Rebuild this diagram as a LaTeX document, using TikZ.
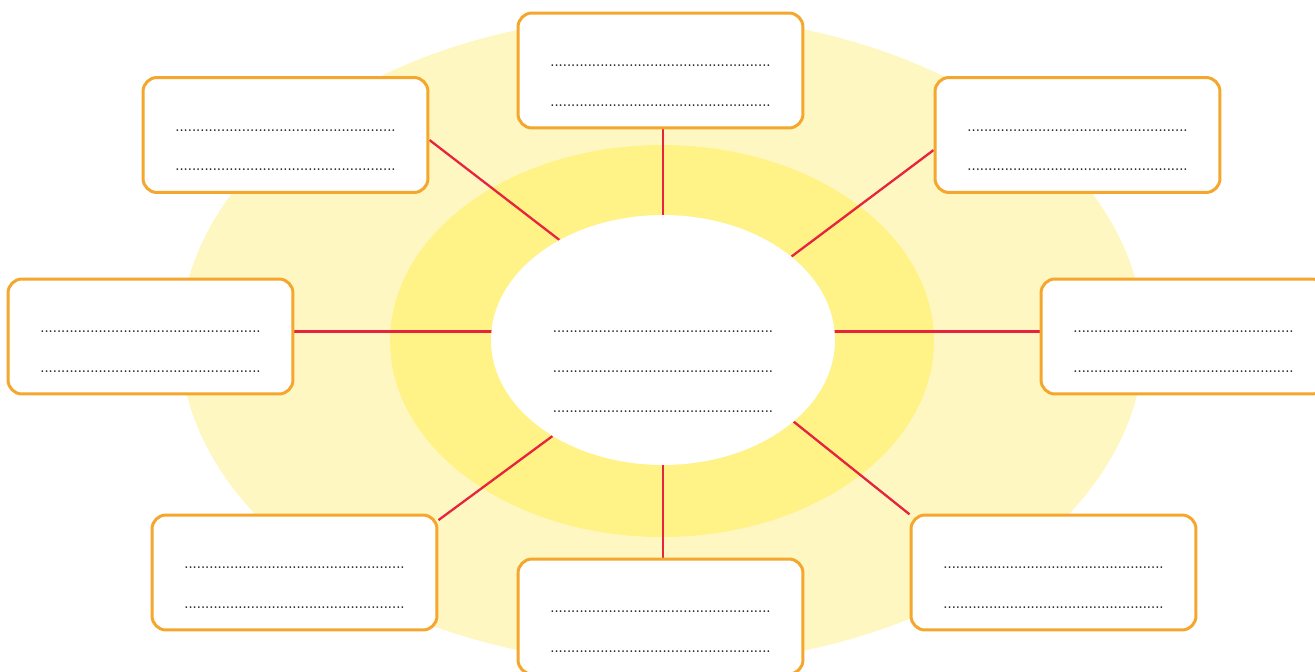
\documentclass[tikz,border=0pt]{standalone}
\usetikzlibrary{shapes.geometric,calc}
\definecolor{ringout}{HTML}{FFF7C1}
\definecolor{ringin}{HTML}{FFF286}
\definecolor{boxline}{HTML}{F4A62D}
\definecolor{spoke}{HTML}{E8233D}
\pgfdeclarelayer{bg}
\pgfsetlayers{bg,main}
\newcommand{\dotrow}{.....................................................}
\newcommand{\answerbox}[3]{
	\node[abox] (#1) at (#2,#3) {\rule{0pt}{0.64cm}\dotrow\\\dotrow};
}

\begin{document}
\begin{tikzpicture}[x=0.02cm, y=-0.02cm,
	dottext/.style={align=center, text=black!90, font=\fontsize{6}{22.76}\selectfont\bfseries},
	abox/.style={dottext, draw=boxline, line width=1.7pt, rounded corners=8pt, fill=white,
		minimum width=5.7cm, minimum height=2.3cm, inner sep=0pt},
	spokeline/.style={spoke, line width=1.3pt}]
		\useasboundingbox (0,0) rectangle (1315,672);

		% rings
		\begin{pgfonlayer}{bg}
		\fill[ringout] (662,340) ellipse [x radius=9.64cm, y radius=6.5cm];
		\fill[ringin] (662,341) ellipse [x radius=5.44cm, y radius=3.92cm];
		\end{pgfonlayer}

		\node[ellipse, fill=white, minimum width=6.88cm, minimum height=5cm, inner sep=0pt] (core) at (663,340) {};
		\node[dottext] (coretext) at (663,372) {\dotrow\\\dotrow\\\dotrow};

		\answerbox{top}{660.5}{70.5};
		\answerbox{topleft}{285.5}{135};
		\answerbox{topright}{1077.5}{135};
		\answerbox{left}{150.5}{336.5};
		\answerbox{right}{1183.5}{336.5};
		\answerbox{botleft}{294.5}{572.5};
		\answerbox{bottom}{660.5}{616.5};
		\answerbox{botright}{1053.5}{572.5};

		% spokes
		\begin{pgfonlayer}{bg}
		\draw[spokeline] (core.north) -- (core.north |- top.south);
		\draw[spokeline] (core.south) -- (core.south |- bottom.north);
		\draw[spokeline] (left.2) -- (left.2 -| core.center);
		\draw[spokeline] (right.178) -- (right.178 -| core.center);
		\draw[spokeline] (topleft.-2) -- (core.136);
		\draw[spokeline] (topright.186) -- (core.33);
		\draw[spokeline] (botleft.20) -- (core.221);
		\draw[spokeline] (botright.158) -- (core.-32);
		\end{pgfonlayer}
\end{tikzpicture}
\end{document}
